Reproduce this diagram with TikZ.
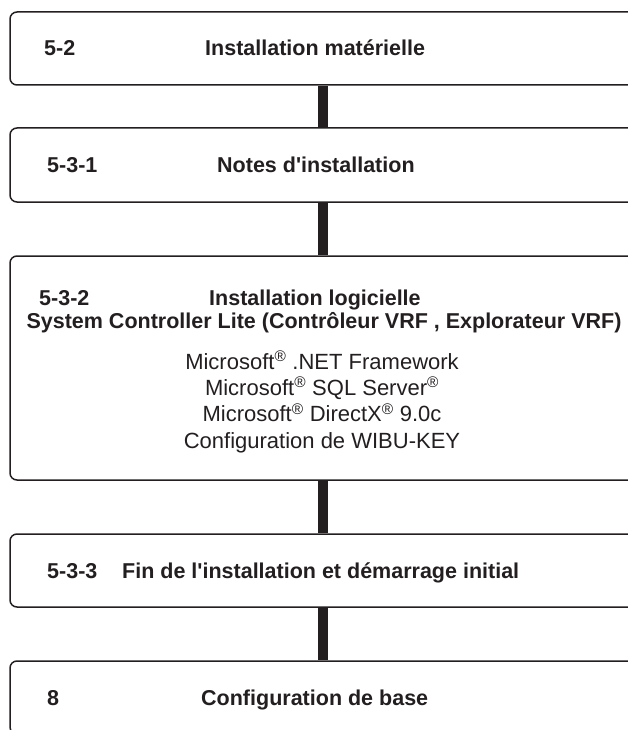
\documentclass[tikz,border=0pt]{standalone}
\usepackage{fontspec}
\setmainfont{Liberation Sans}
\usetikzlibrary{positioning}
\definecolor{inkline}{HTML}{231F20}
\tikzset{
	stagebox/.style={draw=inkline, line width=1.5pt, rounded corners=7pt, minimum width=627pt, inner sep=0pt},
	stagenum/.style={anchor=base west, inner sep=0pt, text=inkline, font=\bfseries\fontsize{21.5}{24}\selectfont},
	itemtext/.style={anchor=base, inner sep=0pt, text=inkline, align=center, font=\fontsize{22}{26.3}\selectfont},
	spine/.style={draw=inkline, line width=10pt}
}
\newcommand{\regmark}{\textsuperscript{®}}

\begin{document}
\begin{tikzpicture}[x=1pt, y=-1pt]
	\useasboundingbox (0,0) rectangle (628,730);
	\clip (0,0) rectangle (628,730);
	\coordinate (axis) at (322.5,0);

	% boxes
	\node[stagebox, minimum height=73pt] (hw) at (323.5,48.5) {};
	\node[stagebox, minimum height=74pt] (notes) at (323.5,165) {};
	\node[stagebox, minimum height=224pt] (sw) at (323.5,368) {};
	\node[stagebox, minimum height=73pt] (fin) at (323.5,570.5) {};
	\node[stagebox, minimum height=73pt] (base) at (323.5,697.5) {};

	% connectors
	\draw[spine] (hw.south -| axis) -- (notes.north -| axis);
	\draw[spine] (notes.south -| axis) -- (sw.north -| axis);
	\draw[spine] (sw.south -| axis) -- (fin.north -| axis);
	\draw[spine] (fin.south -| axis) -- (base.north -| axis);

	% labels
	\node[stagenum] (hwnum) at (44,56) {5-2};
	\node[stagenum] (hwtitle) at (205,56) {Installation matérielle};
	\node[stagenum] (notesnum) at (47,172) {5-3-1};
	\node[stagenum] (notestitle) at (217,172) {Notes d\textquotesingle installation};
	\node[stagenum] (swnum) at (39,305) {5-3-2};
	\node[stagenum] (swtitle) at (209,305) {Installation logicielle};
	\node[stagenum, anchor=base] (swsub) at (324,328) {System Controller Lite (Contrôleur VRF , Explorateur VRF)};
	\node[itemtext] (swlist) at (322,448) {Microsoft\regmark\ .NET Framework\\
		Microsoft\regmark\ SQL Server\regmark\\
		Microsoft\regmark\ DirectX\regmark\ 9.0c\\
		Configuration de WIBU-KEY};
	\node[stagenum] (finnum) at (47,578) {5-3-3};
	\node[stagenum] (fintitle) at (122,578) {Fin de l\textquotesingle installation et démarrage initial};
	\node[stagenum] (basenum) at (47,705) {8};
	\node[stagenum] (basetitle) at (201,705) {Configuration de base};
\end{tikzpicture}
\end{document}
